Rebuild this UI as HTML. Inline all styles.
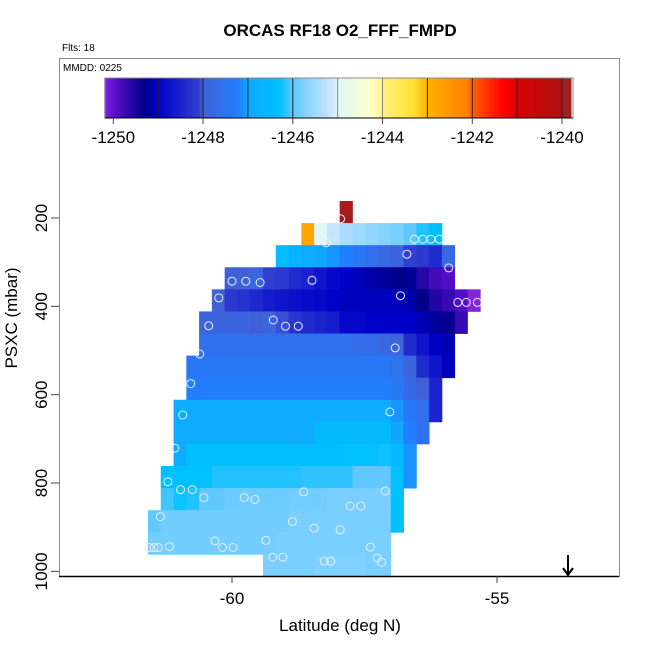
<!DOCTYPE html>
<html><head><meta charset="utf-8"><style>
body{margin:0;background:#fff}
svg{display:block;font-family:"Liberation Sans",sans-serif}
</style></head><body>
<svg id="c" width="650" height="650" viewBox="0 0 650 650">
<text x="340" y="36" text-anchor="middle" font-size="17" font-weight="bold">ORCAS RF18 O2_FFF_FMPD</text>
<text x="62" y="51" font-size="10">Flts: 18</text>
<rect x="59.5" y="58.5" width="560" height="518" fill="none" stroke="#888"/>
<text x="63" y="71" font-size="10">MMDD: 0225</text>
<g id="heat"></g>
<g id="pts"></g>
<g id="cbar"></g>
<g id="axes"></g>
<text x="340" y="631" text-anchor="middle" font-size="17">Latitude (deg N)</text>
<text transform="translate(17,318) rotate(-90)" text-anchor="middle" font-size="17">PSXC (mbar)</text>
<g>
<line x1="568" y1="555" x2="568" y2="575" stroke="#000" stroke-width="2"/>
<polyline points="563,568 568,575 573,568" fill="none" stroke="#000" stroke-width="2"/>
</g>
</svg>
<script>
const xTicks=[-60,-55];
const yTicks=[200,400,600,800,1000];
const cbTicks=[-1250,-1248,-1246,-1244,-1242,-1240];
const lat0=-61.585, dLat=0.2411, p0=161.5, dP=50;
const rowStart=[15,12,10,6,5,4,4,3,3,2,2,2,1,1,0,0,9];
const row0=[-1239.98];
const row1=[-1242.8,-1245,-1245.2,-1245.4,-1245.5,-1245.6,-1245.7,-1245.8,-1246.0,-1246.2,-1246.4];
const row2=[-1246.4,-1246.7,-1246.9,-1247.0,-1247.1,-1247.2,-1247.4,-1247.6,-1247.8,-1247.9,-1248.1,-1248.2,-1248.4,-1247.8];
const row3=[-1248.0,-1248.0,-1247.9,-1248.1,-1248.2,-1248.4,-1248.5,-1248.7,-1248.9,-1249.0,-1249.05,-1249.15,-1249.2,-1249.3,-1249.25,-1249.6,-1249.8,-1249.9];
const row4=[-1248.0,-1248.2,-1248.3,-1248.45,-1248.6,-1248.7,-1248.8,-1248.85,-1248.9,-1249.0,-1249.05,-1249.05,-1249.05,-1249.05,-1249.05,-1249.15,-1249.3,-1249.55,-1249.7,-1249.9,-1250.2];
const row5=[-1247.9,-1247.9,-1247.9,-1247.9,-1248.0,-1247.9,-1248.05,-1248.25,-1248.4,-1248.5,-1248.6,-1248.9,-1248.9,-1249.0,-1249.0,-1249.0,-1249.0,-1249.1,-1249.2,-1249.35,-1249.7];
const row6=[-1247.6,-1247.6,-1247.6,-1247.6,-1247.6,-1247.6,-1247.6,-1247.6,-1247.6,-1247.6,-1247.6,-1247.6,-1247.7,-1247.7,-1247.8,-1247.9,-1248.4,-1248.7,-1249.0,-1249.1];
const row7=[-1247.4,-1247.4,-1247.4,-1247.4,-1247.4,-1247.4,-1247.4,-1247.4,-1247.4,-1247.4,-1247.4,-1247.4,-1247.4,-1247.4,-1247.4,-1247.4,-1247.55,-1247.9,-1248.4,-1248.7,-1249.05];
const row8=[-1247.25,-1247.25,-1247.25,-1247.25,-1247.25,-1247.25,-1247.25,-1247.25,-1247.25,-1247.25,-1247.25,-1247.25,-1247.25,-1247.25,-1247.25,-1247.25,-1247.4,-1247.8,-1248.0,-1248.5];
const row9=[-1246.9,-1246.9,-1246.9,-1246.9,-1246.9,-1246.9,-1246.9,-1246.9,-1246.9,-1246.9,-1246.9,-1246.9,-1246.9,-1246.9,-1246.9,-1246.9,-1246.9,-1247.1,-1247.4,-1247.6,-1248.5];
const row10=[-1246.9,-1246.9,-1246.9,-1246.9,-1246.9,-1246.9,-1246.9,-1246.9,-1246.9,-1246.9,-1246.9,-1246.5,-1246.5,-1246.5,-1246.5,-1246.5,-1246.5,-1247.0,-1247.25,-1247.6];
const row11=[-1246.9,-1246.35,-1246.35,-1246.35,-1246.35,-1246.35,-1246.35,-1246.35,-1246.35,-1246.35,-1246.35,-1246.35,-1246.35,-1246.3,-1246.3,-1246.3,-1246.25,-1246.5,-1247.1];
const row12=[-1246.3,-1246.3,-1246.3,-1246.3,-1246.2,-1246.2,-1246.2,-1246.2,-1246.2,-1246.2,-1246.2,-1246.15,-1246.15,-1246.15,-1246.15,-1246.0,-1246.0,-1246.0,-1246.3,-1247.1];
const row13=[-1246.1,-1246.25,-1246.2,-1246.0,-1246.0,-1245.9,-1245.9,-1245.9,-1245.9,-1245.9,-1245.85,-1245.85,-1245.85,-1245.8,-1245.8,-1245.8,-1245.8,-1245.8,-1246.3];
const row14=[-1246.0,-1245.85,-1245.85,-1245.85,-1245.85,-1245.85,-1245.85,-1245.85,-1245.85,-1245.85,-1245.85,-1245.8,-1245.8,-1245.8,-1245.8,-1245.8,-1245.8,-1245.8,-1245.8,-1246.3];
const row15=[-1245.85,-1245.85,-1245.85,-1245.85,-1245.85,-1245.85,-1245.85,-1245.85,-1245.85,-1245.85,-1245.8,-1245.8,-1245.8,-1245.8,-1245.8,-1245.8,-1245.8,-1245.8,-1245.8];
const row16=[-1245.8,-1245.8,-1245.8,-1245.8,-1245.75,-1245.75,-1245.75,-1245.75,-1245.8,-1245.8];
const rows=[row0,row1,row2,row3,row4,row5,row6,row7,row8,row9,row10,row11,row12,row13,row14,row15,row16];
const ptLat=[-57.95,-58.22,-56.56,-56.40,-56.25,-56.09,-56.70,-55.91,-60.0,-59.74,-59.47,-58.49,-60.25,-56.82,-55.74,-55.58,-55.37,-60.44,-59.22,-58.99,-58.75,-56.92,-60.61,-60.78,-60.93,-57.02,-61.08,-61.21,-60.97,-60.75,-60.53,-59.77,-59.57,-58.65,-57.11,-57.77,-57.57,-61.35,-58.86,-58.45,-57.96,-60.32,-60.18,-59.98,-59.36,-57.39,-61.56,-61.47,-61.39,-61.18,-59.23,-59.04,-58.26,-58.14,-57.26,-57.18];
const ptP=[202,256,248,248,248,248,282,313,343,343,346,341,381,376,391,391,391,444,431,445,445,494,508,575,646,639,721,797,815,815,833,833,837,820,818,852,852,876,887,902,906,931,946,946,930,945,946,946,946,944,968,968,977,977,970,979];
const stopV=[-1250.25,-1250,-1249.3,-1249,-1248.1,-1248,-1247.2,-1247,-1246.3,-1246,-1245.1,-1245,-1244.2,-1244,-1243.3,-1243,-1242.1,-1242,-1241.3,-1241,-1240.1,-1239.95];
const stopC=["#8a2be2","#6010d0","#000088","#0000c8","#3040d0","#4060d8","#2080ff","#10a8ff","#00c0ff","#60c8ff","#d0e8ff","#e0f8f8","#ffffc0","#fff080","#ffe030","#ffb000","#ff8000","#ff6000","#ff0000","#d80000","#b01010","#a02020"];
const NS="http://www.w3.org/2000/svg";
const xS=v=>232+(v+60)*53;
const yS=p=>218+(p-200)*0.4417;
const cS=v=>113.3+(v+1250)*44.87;
function hex(h){return [1,3,5].map(i=>parseInt(h.substr(i,2),16));}
function col(v){
  if(v<=stopV[0])return stopC[0];
  for(let i=1;i<stopV.length;i++){if(v<=stopV[i]){const t=(v-stopV[i-1])/(stopV[i]-stopV[i-1]);const a=hex(stopC[i-1]),b=hex(stopC[i]);return "rgb("+a.map((x,k)=>Math.round(x+(b[k]-x)*t)).join(",")+")";}}
  return stopC[stopC.length-1];
}
function mk(tag,attrs,parent){const e=document.createElementNS(NS,tag);for(const k in attrs)e.setAttribute(k,attrs[k]);parent.appendChild(e);return e;}
const heat=document.getElementById('heat');
rows.forEach((r,ri)=>{
  const pT=p0+ri*dP;
  r.forEach((v,j)=>{
    const la=lat0+(rowStart[ri]+j)*dLat;
    const x1=xS(la),x2=xS(la+dLat),y1=yS(pT),y2=yS(pT+dP);
    const e=mk('rect',{x:x1.toFixed(2),y:y1.toFixed(2),width:(x2-x1+0.4).toFixed(2),height:(y2-y1+0.4).toFixed(2),fill:col(v)},heat);
    
    
  });
});
const pts=document.getElementById('pts');
ptLat.forEach((la,i)=>{
  const e=mk('circle',{cx:xS(la).toFixed(1),cy:yS(ptP[i]).toFixed(1),r:4,fill:'none',stroke:'#e8f0ff','stroke-width':1},pts);
  
  
});
const cb=document.getElementById('cbar');
const steps=240;
for(let i=0;i<steps;i++){
  const v=-1250.2+i*(10.4/steps);
  const x1=cS(v),x2=cS(v+10.4/steps);
  const e=mk('rect',{x:x1.toFixed(2),y:78,width:(x2-x1+0.5).toFixed(2),height:40,fill:col(v+0.02)},cb);
  
  
}
for(let v=-1249;v<=-1240;v++){
  const e=mk('line',{x1:cS(v),x2:cS(v),y1:78,y2:118,stroke:(v==-1245||v==-1244)?'#888':'#222','stroke-width':1},cb);
  
  
}
const cbf=mk('rect',{x:105,y:78,width:468,height:40,fill:'none',stroke:'#888','stroke-width':1},cb);


mk('line',{x1:105,x2:573,y1:118,y2:118,stroke:'#000'},cb);
cbTicks.forEach(t=>{
  const x=cS(t);
  mk('line',{x1:x,x2:x,y1:118,y2:124,stroke:'#444'},cb);
  const e=mk('text',{x:x,y:143,'text-anchor':'middle','font-size':17},cb);
  e.textContent=t;
  
  
});
const ax=document.getElementById('axes');
mk('line',{x1:59,x2:619,y1:576.5,y2:576.5,stroke:'#000','stroke-width':1.5},ax);
xTicks.forEach(t=>{
  const x=xS(t);
  mk('line',{x1:x,x2:x,y1:576,y2:583,stroke:'#444'},ax);
  const e=mk('text',{x:x,y:604,'text-anchor':'middle','font-size':17},ax);
  e.textContent=t;
  
  
});
yTicks.forEach(t=>{
  const y=yS(t);
  mk('line',{x1:51,x2:59,y1:y,y2:y,stroke:'#444'},ax);
  const e=mk('text',{transform:'translate(47,'+y+') rotate(-90)','text-anchor':'middle','font-size':17},ax);
  e.textContent=t;
  
  
});
</script>
</body></html>
